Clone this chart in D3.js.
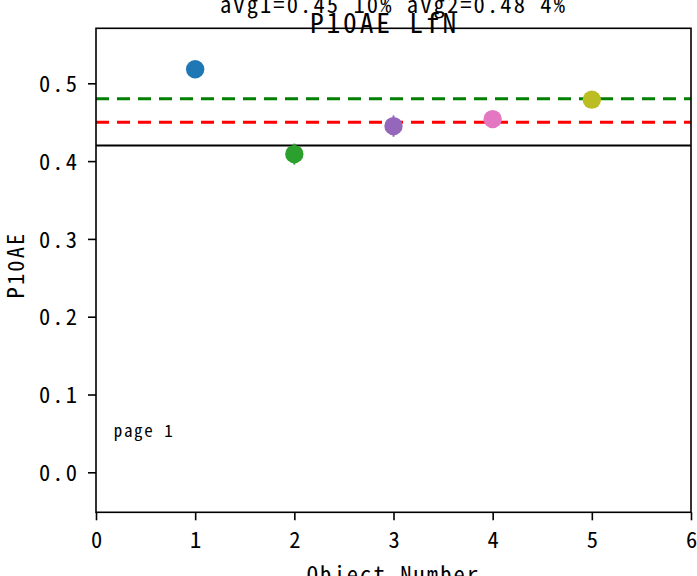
<!DOCTYPE html>
<html>
<head>
<meta charset="utf-8">
<script src="https://cdn.jsdelivr.net/npm/d3@7/dist/d3.min.js"></script>
<style>
  html, body { margin: 0; padding: 0; background: #fff; }
  svg { display: block; }
  text { font-family: "Noto Sans Mono CJK SC", "Noto Sans CJK SC", "DejaVu Sans Mono", monospace; fill: #000; }
</style>
</head>
<body>
<svg id="chart" width="697" height="576"></svg>
<script>
// ---- data ----
const objects = [1, 2, 3, 4, 5];
const values = [0.518, 0.409, 0.445, 0.454, 0.479];
const errors = [0.004, 0.0135, 0.0137, 0.004, 0.005];
const colors = ["#1f77b4", "#2ca02c", "#9467bd", "#e377c2", "#bcbd22"];
const avg1 = 0.45;
const avg2 = 0.48;
const baseline = 0.42;
const xTicks = [0, 1, 2, 3, 4, 5, 6];
const yTicks = [0.0, 0.1, 0.2, 0.3, 0.4, 0.5];
const xDomain = [0, 6];
const yDomain = [-0.0514, 0.5707];
const titleText = "P10AE LfN";
const subtitleText = "avg1=0.45 10% avg2=0.48 4%";
const xLabel = "Object Number";
const yLabel = "P10AE";
const pageNote = { x: 0.18, y: 0.046, text: "page 1" };

// ---- layout ----
const svg = d3.select("#chart");
const L = 96, R = 691, T = 28.3, B = 512.3;
const x = d3.scaleLinear().domain(xDomain).range([L, R]);
const y = d3.scaleLinear().domain(yDomain).range([B, T]);

const tickFont = 22.5, tickLS = 2.1;

// horizontal reference lines
svg.append("line").attr("x1", L).attr("x2", R)
  .attr("y1", y(baseline)).attr("y2", y(baseline))
  .attr("stroke", "#000").attr("stroke-width", 2);
svg.append("line").attr("x1", L).attr("x2", R)
  .attr("y1", y(avg2)).attr("y2", y(avg2))
  .attr("stroke", "#008000").attr("stroke-width", 3).attr("stroke-dasharray", "13,8");
svg.append("line").attr("x1", L).attr("x2", R)
  .attr("y1", y(avg1)).attr("y2", y(avg1))
  .attr("stroke", "#ff0000").attr("stroke-width", 3).attr("stroke-dasharray", "13,8");

// error bars
svg.append("g").selectAll("line").data(objects).join("line")
  .attr("x1", d => x(d)).attr("x2", d => x(d))
  .attr("y1", (d, i) => y(values[i] - errors[i]))
  .attr("y2", (d, i) => y(values[i] + errors[i]))
  .attr("stroke", (d, i) => colors[i]).attr("stroke-width", 2);

// points
svg.append("g").selectAll("circle").data(objects).join("circle")
  .attr("cx", d => x(d)).attr("cy", (d, i) => y(values[i]))
  .attr("r", 9.2).attr("fill", (d, i) => colors[i]);

// page note
svg.append("text").attr("x", x(pageNote.x)).attr("y", y(pageNote.y))
  .attr("font-size", 17).attr("letter-spacing", 1.6).text(pageNote.text);

// axes frame
const frame = svg.append("g");
frame.append("rect").attr("x", L).attr("y", T).attr("width", R - L).attr("height", B - T)
  .attr("fill", "none").attr("stroke", "#000").attr("stroke-width", 1.6);

// x axis
const xAxis = d3.axisBottom(x).tickValues(xTicks).tickFormat(d3.format("d")).tickSize(8).tickPadding(11);
const gx = svg.append("g").attr("transform", `translate(0,${B})`).call(xAxis);
gx.select(".domain").remove();
gx.selectAll(".tick line").attr("stroke", "#000").attr("stroke-width", 1.6);
gx.selectAll(".tick text").attr("font-size", tickFont).attr("letter-spacing", 0)
  .attr("font-family", null).attr("fill", "#000").attr("dy", null).attr("y", 35.4);

// y axis
const yAxis = d3.axisLeft(y).tickValues(yTicks).tickFormat(d3.format(".1f")).tickSize(8).tickPadding(11);
const gy = svg.append("g").attr("transform", `translate(${L},0)`).call(yAxis);
gy.select(".domain").remove();
gy.selectAll(".tick line").attr("stroke", "#000").attr("stroke-width", 1.6);
gy.selectAll(".tick text").attr("font-size", tickFont).attr("letter-spacing", tickLS)
  .attr("font-family", null).attr("fill", "#000").attr("dy", "0.36em").attr("x", -17);

// axis labels
svg.append("text").attr("x", (L + R) / 2).attr("y", 582.5).attr("text-anchor", "middle")
  .attr("font-size", tickFont).attr("letter-spacing", tickLS).text(xLabel);
svg.append("text").attr("transform", `translate(24,265) rotate(-90)`).attr("text-anchor", "middle")
  .attr("font-size", tickFont).attr("letter-spacing", tickLS).text(yLabel);

// titles
svg.append("text").attr("x", (L + R) / 2).attr("y", 12.5).attr("text-anchor", "middle")
  .attr("font-size", tickFont).attr("letter-spacing", tickLS).text(subtitleText);
svg.append("text").attr("x", (L + R) / 2 - 9).attr("y", 33.3).attr("text-anchor", "middle")
  .attr("font-size", 27.5).attr("letter-spacing", 2.8).text(titleText);
</script>
</body>
</html>
